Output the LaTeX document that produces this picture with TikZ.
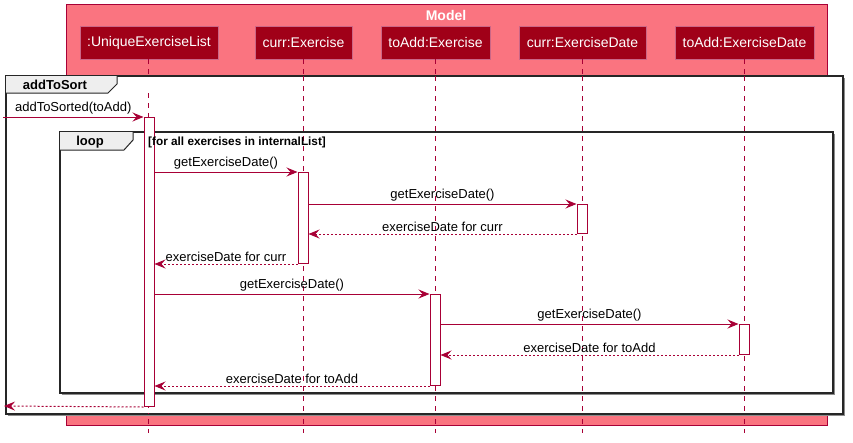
\documentclass[tikz,border=0pt]{standalone}
\usepackage{fontspec}
\setmainfont{Liberation Sans}
\usetikzlibrary{arrows.meta,calc}

\definecolor{umlred}{HTML}{A80036}
\definecolor{boxfill}{HTML}{FA7480}
\definecolor{partfill}{HTML}{A00018}
\definecolor{tabfill}{HTML}{EEEEEE}

\tikzset{
  participant/.style={draw=umlred!60!white, line width=0.6pt, fill=partfill, text=white,
    minimum height=33pt, inner sep=0pt, font=\fontsize{14}{16}\selectfont},
  lifeline/.style={draw=umlred, line width=0.8pt, dash pattern=on 5pt off 5pt},
  actbar/.style={draw=umlred, line width=1pt, fill=white, minimum width=10pt, inner sep=0pt, anchor=north},
  msg/.style={draw=umlred, line width=1pt, -{Stealth[length=11pt,width=9pt,inset=4pt]}},
  ret/.style={msg, dash pattern=on 2pt off 2pt},
  msglabel/.style={midway, anchor=south, yshift=1pt, inner sep=1pt, font=\fontsize{13}{15}\selectfont},
  frameline/.style={draw=black!85, line width=1.6pt},
  frameshadow/.style={draw=black!45, line width=1.6pt},
  tabtext/.style={font=\fontsize{13}{15}\selectfont\bfseries},
}

\begin{document}
\begin{tikzpicture}[x=1pt, y=-1pt]
\useasboundingbox (0,0) rectangle (853,442);
\fill[white] (0,0) rectangle (853,442);

% box grouping the model participants
\node[draw=umlred, line width=1pt, fill=boxfill, minimum width=761pt, minimum height=421pt,
      inner sep=0pt, anchor=north west] (model) at (66,4) {};
\node[text=white, font=\fontsize{14}{16}\selectfont\bfseries] (modeltitle) at (446,15) {Model};

% participants
\node[participant, minimum width=138pt] (uel) at (149,42.5) {:UniqueExerciseList};
\node[participant, minimum width=97pt]  (ce)  at (303.5,42.5) {curr:Exercise};
\node[participant, minimum width=109pt] (te)  at (435.5,42.5) {toAdd:Exercise};
\node[participant, minimum width=127pt] (cd)  at (582.5,42.5) {curr:ExerciseDate};
\node[participant, minimum width=139pt] (td)  at (744.5,42.5) {toAdd:ExerciseDate};

% lifelines
\coordinate (uelend) at (148,433);
\coordinate (ceend) at (303,433);
\coordinate (teend) at (435,433);
\coordinate (cdend) at (582,433);
\coordinate (tdend) at (744,433);
\draw[lifeline] (uel.south -| uelend) -- (uelend);
\draw[lifeline] (ce.south -| ceend) -- (ceend);
\draw[lifeline] (te.south -| teend) -- (teend);
\draw[lifeline] (cd.south -| cdend) -- (cdend);
\draw[lifeline] (td.south -| tdend) -- (tdend);

% outer fragment: addToSort
\fill[white] (6,76) rectangle (843,414);
\draw[frameshadow] (7.5,415.5) -- (844.5,415.5) -- (844.5,77.5);
\draw[frameline] (6,76) rectangle (843,414);
\fill[tabfill] (6,76) -- (117,76) -- (117,84) -- (108,93) -- (6,93) -- cycle;
\draw[draw=black!85, line width=1pt] (117,76) -- (117,84) -- (108,93) -- (6,93);
\node[tabtext] (outertab) at (55,85) {addToSort};

% lifelines continue through the fragment
\draw[lifeline] (148,93) -- (148,414);
\draw[lifeline] (303,76) -- (303,414);
\draw[lifeline] (435,76) -- (435,414);
\draw[lifeline] (582,76) -- (582,414);
\draw[lifeline] (744,76) -- (744,414);

% loop fragment
\draw[frameshadow] (61.5,394.5) -- (834.5,394.5) -- (834.5,133.5);
\draw[frameline] (60,132) rectangle (833,393);
\fill[tabfill] (60,132) -- (133,132) -- (133,140) -- (124,150) -- (60,150) -- cycle;
\draw[draw=black!85, line width=1pt] (133,132) -- (133,140) -- (124,150) -- (60,150);
\node[tabtext] (looptab) at (90,142) {loop};

% activation bars
\node[actbar, minimum height=289pt] (a1) at (149,117) {};
\node[actbar, minimum height=91pt]  (a2) at (303,172) {};
\node[actbar, minimum height=29pt]  (a3) at (582,204) {};
\node[actbar, minimum height=91pt]  (a4) at (435,294) {};
\node[actbar, minimum height=30pt]  (a5) at (744,324) {};

% loop guard, set over the activation bar
\node[anchor=west, inner sep=0pt, font=\fontsize{11.8}{13}\selectfont\bfseries] (guard) at (148,142)
  {[for all exercises in internalList]};

% messages
\coordinate (start) at (3,117);
\coordinate (finish) at (4,406);
\draw[msg] (start) -- (a1.north west) node[msglabel] {addToSorted(toAdd)};
\draw[msg] (a1.east |- a2.north) -- (a2.north west) node[msglabel] {getExerciseDate()};
\draw[msg] (a2.east |- a3.north) -- (a3.north west) node[msglabel] {getExerciseDate()};
\draw[ret] (a3.south west) -- (a2.east |- a3.south) node[msglabel] {exerciseDate for curr};
\draw[ret] (a2.south west) -- (a1.east |- a2.south) node[msglabel] {exerciseDate for curr};
\draw[msg] (a1.east |- a4.north) -- (a4.north west) node[msglabel] {getExerciseDate()};
\draw[msg] (a4.east |- a5.north) -- (a5.north west) node[msglabel] {getExerciseDate()};
\draw[ret] (a5.south west) -- (a4.east |- a5.south) node[msglabel] {exerciseDate for toAdd};
\draw[ret] (a4.south west) -- (a1.east |- a4.south) node[msglabel] {exerciseDate for toAdd};
\draw[ret] (a1.south west) -- (finish);
\end{tikzpicture}
\end{document}
